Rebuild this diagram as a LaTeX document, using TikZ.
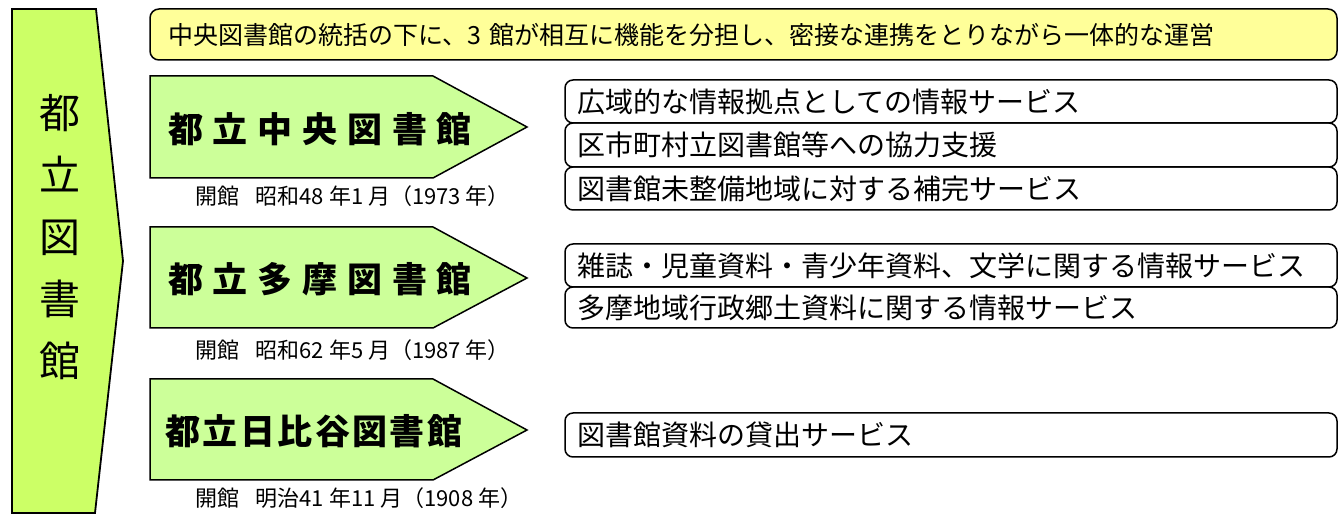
\documentclass[tikz,border=0pt]{standalone}
\usepackage{fontspec}
\setmainfont{Noto Sans CJK JP}
\usetikzlibrary{positioning}
\definecolor{rootgreen}{HTML}{CCFF66}
\definecolor{kangreen}{HTML}{CCFF99}
\definecolor{bannerye}{HTML}{FFFF99}
\tikzset{
  rootshape/.style={draw=black, line width=1.8pt, fill=rootgreen},
  kanarrow/.style={draw=black, line width=1.5pt, fill=kangreen},
  banner/.style={
    rectangle,
    rounded corners=9pt,
    draw=black, line width=1.5pt,
    fill=bannerye,
    minimum width=1187pt,
    minimum height=51pt,
    text width=1151pt,
    inner xsep=18pt,
    align=left,
    outer sep=0pt,
    font=\fontsize{25}{25}\selectfont},
  servicebox/.style={
    rectangle,
    rounded corners=8pt,
    draw=black, line width=1.5pt,
    minimum width=772pt,
    text width=748pt,
    inner xsep=12pt,
    align=left,
    outer sep=0pt,
    font=\fontsize{28}{28}\selectfont},
  kantitle/.style={anchor=west, inner sep=0pt, font=\fontsize{35}{35}\selectfont\bfseries},
  opened/.style={anchor=west, inner sep=0pt, font=\fontsize{22}{22}\selectfont},
}

\begin{document}
\begin{tikzpicture}[x=1pt, y=-1pt]
      \useasboundingbox (0,0) rectangle (1342,526);

      % left block
      \draw[rootshape] (12,9) -- (96,9) -- (123,261) -- (95,513) -- (12,513) -- cycle;
      \node (toritsu) [align=center, inner sep=0pt, font=\fontsize{41}{62}\selectfont] at (60,237) {都\\立\\図\\書\\館};

      % policy banner
      \node[banner, anchor=north west] (policy) at (150,9) {中央図書館の統括の下に、3 館が相互に機能を分担し、密接な連携をとりながら一体的な運営};

      % three libraries
      \draw[kanarrow] (150,76) -- (433,76) -- (527,127) -- (433,178) -- (150,178) -- cycle;
      \draw[kanarrow] (150,227) -- (433,227) -- (527,278) -- (433,328) -- (150,328) -- cycle;
      \draw[kanarrow] (150,379) -- (433,379) -- (527,430) -- (433,480) -- (150,480) -- cycle;

      \node[kantitle] (chuo) at (168,129) {\addfontfeature{LetterSpace=28}都立中央図書館};
      \node[kantitle] (tama) at (168,279) {\addfontfeature{LetterSpace=28}都立多摩図書館};
      \node[kantitle] (hibiya) at (165,431) {\addfontfeature{LetterSpace=7}都立日比谷図書館};

      \node[opened] (chuoopen) at (195,196) {開館\hspace{0.75em}昭和48 年1 月（1973 年）};
      \node[opened] (tamaopen) at (195,350) {開館\hspace{0.75em}昭和62 年5 月（1987 年）};
      \node[opened] (hibiyaopen) at (195,498) {開館\hspace{0.75em}明治41 年11 月（1908 年）};

      % services
      \node[servicebox, minimum height=43pt, anchor=north west] (chuo1) at (565,80) {広域的な情報拠点としての情報サービス};
      \node[servicebox, minimum height=44pt, below=0pt of chuo1] (chuo2) {区市町村立図書館等への協力支援};
      \node[servicebox, minimum height=43pt, below=0pt of chuo2] (chuo3) {図書館未整備地域に対する補完サービス};

      \node[servicebox, minimum height=43pt, anchor=north west] (tama1) at (565,244) {雑誌・児童資料・青少年資料、文学に関する情報サービス};
      \node[servicebox, minimum height=41pt, below=0pt of tama1] (tama2) {多摩地域行政郷土資料に関する情報サービス};

      \node[servicebox, minimum height=44pt, anchor=north west] (hibiya1) at (565,413) {図書館資料の貸出サービス};

\end{tikzpicture}
\end{document}
